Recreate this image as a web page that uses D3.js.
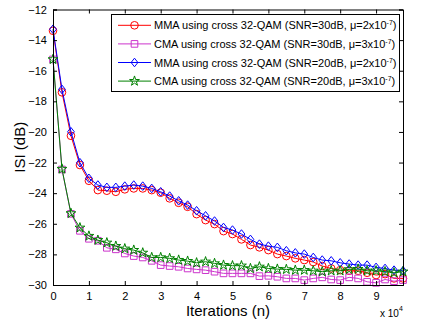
<!DOCTYPE html>
<html>
<head>
<meta charset="utf-8">
<script src="https://cdn.jsdelivr.net/npm/d3@7"></script>
<style>
  body { margin: 0; background: #fff; }
  text { font-family: "Liberation Sans", Arial, sans-serif; }
</style>
</head>
<body>
<script>
var width = 422, height = 322;

// iterations (n)
var iterations = [0, 2500, 5000, 7500, 10000, 12500, 15000, 17500, 20000, 22500,
  25000, 27500, 30000, 32500, 35000, 37500, 40000, 42500, 45000, 47500,
  50000, 52500, 55000, 57500, 60000, 62500, 65000, 67500, 70000, 72500,
  75000, 77500, 80000, 82500, 85000, 87500, 90000, 92500, 95000, 97500];

var mma30 = [-13.39, -17.41, -20.25, -22.16, -23.19, -23.8, -23.84, -23.91, -23.75, -23.69,
  -23.69, -23.8, -23.97, -24.34, -24.63, -24.89, -25.37, -25.76, -26.02, -26.48,
  -26.67, -27.02, -27.39, -27.54, -27.72, -27.98, -28.11, -28.26, -28.37, -28.5,
  -28.76, -28.92, -29.03, -29.07, -29.07, -29.2, -29.35, -29.29, -29.57, -29.57];

var cma30 = [-15.26, -22.45, -25.35, -26.46, -26.98, -27.11, -27.57, -27.67, -27.94, -28.11,
  -28.2, -28.42, -28.7, -28.76, -28.81, -28.92, -28.98, -29.03, -29.13, -29.24,
  -29.24, -29.24, -29.24, -29.42, -29.4, -29.46, -29.57, -29.57, -29.68, -29.57,
  -29.5, -29.64, -29.68, -29.5, -29.57, -29.79, -29.86, -29.64, -29.75, -29.68];

var mma20 = [-13.29, -17.22, -19.99, -22.01, -23.03, -23.47, -23.62, -23.62, -23.54, -23.47,
  -23.54, -23.69, -23.91, -24.19, -24.5, -24.78, -25.15, -25.48, -25.82, -26.24,
  -26.41, -26.67, -27.02, -27.33, -27.46, -27.54, -27.76, -27.9, -27.98, -28.2,
  -28.37, -28.42, -28.55, -28.63, -28.7, -28.7, -28.85, -28.92, -29.03, -29.07];

var cma20 = [-15.26, -22.42, -25.32, -26.26, -26.8, -27.07, -27.24, -27.46, -27.63, -27.72,
  -27.9, -28.2, -28.2, -28.26, -28.37, -28.44, -28.55, -28.48, -28.59, -28.7,
  -28.74, -28.74, -28.92, -28.81, -28.92, -28.96, -28.98, -29.03, -29.03, -29.07,
  -29.13, -29.07, -29.07, -28.98, -28.96, -29.07, -29.07, -29.13, -29.2, -29.13];

var xTicks = [0, 10000, 20000, 30000, 40000, 50000, 60000, 70000, 80000, 90000];
var yTicks = [-12, -14, -16, -18, -20, -22, -24, -26, -28, -30];

var seriesNames = [
  ["MMA using cross 32-QAM (SNR=30dB, ", "\u03bc=2x10", "-7", ")"],
  ["CMA using cross 32-QAM (SNR=30dB, ", "\u03bc=3x10", "-7", ")"],
  ["MMA using cross 32-QAM (SNR=20dB, ", "\u03bc=2x10", "-7", ")"],
  ["CMA using cross 32-QAM (SNR=20dB, ", "\u03bc=3x10", "-7", ")"]
];

var series = [
  { values: mma30, color: "#ff0000", marker: "circle" },
  { values: cma30, color: "#cc33cc", marker: "square" },
  { values: mma20, color: "#0000ff", marker: "diamond" },
  { values: cma20, color: "#008000", marker: "star" }
];

var plotLeft = 53, plotRight = 403, plotTop = 9.5, plotBottom = 285;

var x = d3.scaleLinear().domain([0, 97500]).range([plotLeft, plotRight]);
var y = d3.scaleLinear().domain([-30, -12]).range([plotBottom, plotTop]);

var svg = d3.select("body")
    .append("svg")
    .attr("width", width)
    .attr("height", height);

function markerPath(kind) {
    if (kind == "circle") return d3.symbol(d3.symbolCircle, 46)();
    if (kind == "square") return d3.symbol(d3.symbolSquare, 44)();
    if (kind == "star") return d3.symbol(d3.symbolStar, 30)();
    return "M0,-4.3L3.4,0L0,4.3L-3.4,0Z";
}

var line = d3.line()
    .x(function(d, i) { return x(iterations[i]); })
    .y(function(d) { return y(d); });

var plot = svg.append("g");

series.forEach(function(s) {
    plot.append("path")
        .datum(s.values)
        .attr("d", line)
        .attr("fill", "none")
        .attr("stroke", s.color)
        .attr("stroke-width", 1);

    plot.selectAll(null)
        .data(s.values)
        .enter()
        .append("path")
        .attr("d", markerPath(s.marker))
        .attr("transform", function(d, i) { return `translate(${x(iterations[i])},${y(d)})`; })
        .attr("fill", "none")
        .attr("stroke", s.color)
        .attr("stroke-width", 1);
});

// axes, ticks inward, box on
var axisBottom = d3.axisBottom(x).tickValues(xTicks).tickSize(-4).tickPadding(7)
    .tickFormat(function(d) { return d / 10000; });
var axisTop = d3.axisTop(x).tickValues(xTicks).tickSize(-4).tickFormat("");
var axisLeft = d3.axisLeft(y).tickValues(yTicks).tickSize(-4).tickPadding(6);
var axisRight = d3.axisRight(y).tickValues(yTicks).tickSize(-4).tickFormat("");

function styleAxis(g) {
    g.select(".domain").attr("stroke", "#000");
    g.selectAll(".tick line").attr("stroke", "#000");
    g.selectAll(".tick text")
        .attr("fill", "#000")
        .style("font-family", '"Liberation Sans", Arial, sans-serif')
        .style("font-size", "11px");
}

svg.append("g").attr("transform", `translate(0,${plotBottom})`).call(axisBottom).call(styleAxis);
svg.append("g").attr("transform", `translate(0,${plotTop})`).call(axisTop).call(styleAxis);
svg.append("g").attr("transform", `translate(${plotLeft},0)`).call(axisLeft).call(styleAxis);
svg.append("g").attr("transform", `translate(${plotRight},0)`).call(axisRight).call(styleAxis);

// axis labels
svg.append("text")
    .attr("x", (plotLeft + plotRight) / 2)
    .attr("y", 316)
    .attr("text-anchor", "middle")
    .style("font-size", "15px")
    .text("Iterations (n)");

svg.append("text")
    .attr("transform", `translate(25,${(plotTop + plotBottom) / 2}) rotate(-90)`)
    .attr("text-anchor", "middle")
    .style("font-size", "15px")
    .text("ISI (dB)");

var expo = svg.append("text")
    .attr("x", 380)
    .attr("y", 317)
    .style("font-size", "10px");
expo.append("tspan").text("x 10");
expo.append("tspan").attr("dy", -6).style("font-size", "7px").text("4");

// legend
var legend = svg.append("g");
legend.append("rect")
    .attr("x", 111.5).attr("y", 14.5)
    .attr("width", 288).attr("height", 77)
    .attr("fill", "#fff")
    .attr("stroke", "#000")
    .attr("stroke-width", 1);

series.forEach(function(s, i) {
    var ly = 25.3 + i * 18.6;
    legend.append("line")
        .attr("x1", 118).attr("x2", 151)
        .attr("y1", ly).attr("y2", ly)
        .attr("stroke", s.color);
    legend.append("path")
        .attr("d", markerPath(s.marker))
        .attr("transform", `translate(134.5,${ly})`)
        .attr("fill", "none")
        .attr("stroke", s.color);
    var t = legend.append("text")
        .attr("x", 154)
        .attr("y", ly + 4)
        .style("font-size", "11px");
    var parts = seriesNames[i];
    t.append("tspan").text(parts[0] + parts[1]);
    t.append("tspan").attr("dy", -4).style("font-size", "7px").text(parts[2]);
    t.append("tspan").attr("dy", 4).text(parts[3]);
});
</script>
</body>
</html>
